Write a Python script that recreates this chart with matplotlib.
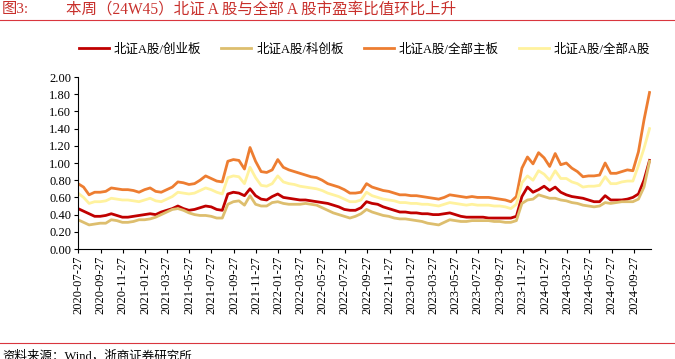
import numpy as np
import pandas as pd
import matplotlib
matplotlib.use("Agg")
import matplotlib.pyplot as plt
from matplotlib.lines import Line2D

plt.rcParams['font.family'] = ['Liberation Serif', 'Noto Sans CJK SC']

# half-monthly readings, 2020-07-27 .. 2024-11-08
cyb = [0.47, 0.44, 0.41, 0.38, 0.38, 0.39, 0.41, 0.39, 0.37, 0.37, 0.38, 0.39,
       0.40, 0.41, 0.40, 0.43, 0.45, 0.47, 0.50, 0.47, 0.45, 0.46, 0.48, 0.50,
       0.49, 0.46, 0.45, 0.64, 0.66, 0.65, 0.62, 0.70, 0.62, 0.58, 0.57, 0.61,
       0.64, 0.60, 0.59, 0.58, 0.57, 0.57, 0.56, 0.55, 0.54, 0.53, 0.51, 0.49,
       0.46, 0.45, 0.45, 0.48, 0.55, 0.53, 0.52, 0.49, 0.47, 0.45, 0.43, 0.43,
       0.42, 0.42, 0.41, 0.41, 0.40, 0.40, 0.41, 0.42, 0.40, 0.38, 0.37, 0.37,
       0.37, 0.37, 0.36, 0.36, 0.36, 0.36, 0.36, 0.38, 0.61, 0.72, 0.66, 0.69,
       0.73, 0.68, 0.72, 0.66, 0.63, 0.61, 0.60, 0.59, 0.57, 0.55, 0.55, 0.62,
       0.57, 0.57, 0.57, 0.58, 0.60, 0.64, 0.80, 1.03]
kcb = [0.34, 0.31, 0.28, 0.29, 0.30, 0.30, 0.34, 0.33, 0.31, 0.31, 0.32, 0.34,
       0.34, 0.35, 0.37, 0.40, 0.43, 0.46, 0.47, 0.45, 0.42, 0.40, 0.39, 0.39,
       0.38, 0.36, 0.36, 0.52, 0.55, 0.56, 0.51, 0.62, 0.52, 0.50, 0.50, 0.54,
       0.55, 0.53, 0.52, 0.52, 0.52, 0.53, 0.52, 0.51, 0.48, 0.45, 0.42, 0.40,
       0.38, 0.36, 0.38, 0.41, 0.46, 0.43, 0.41, 0.39, 0.38, 0.36, 0.35, 0.35,
       0.34, 0.33, 0.32, 0.30, 0.29, 0.28, 0.31, 0.34, 0.33, 0.32, 0.32, 0.33,
       0.33, 0.33, 0.33, 0.32, 0.32, 0.31, 0.31, 0.33, 0.53, 0.57, 0.58, 0.63,
       0.61, 0.59, 0.59, 0.57, 0.56, 0.54, 0.53, 0.51, 0.50, 0.49, 0.50, 0.54,
       0.53, 0.54, 0.55, 0.55, 0.55, 0.58, 0.72, 1.02]
zb = [0.76, 0.72, 0.63, 0.66, 0.66, 0.67, 0.71, 0.70, 0.69, 0.69, 0.68, 0.66,
      0.69, 0.71, 0.67, 0.66, 0.69, 0.72, 0.78, 0.77, 0.75, 0.76, 0.80, 0.85,
      0.82, 0.79, 0.78, 1.02, 1.04, 1.03, 0.93, 1.18, 1.02, 0.90, 0.89, 0.92,
      1.04, 0.95, 0.92, 0.90, 0.88, 0.86, 0.84, 0.83, 0.80, 0.76, 0.74, 0.72,
      0.69, 0.65, 0.65, 0.66, 0.76, 0.72, 0.70, 0.68, 0.67, 0.65, 0.63, 0.63,
      0.62, 0.62, 0.61, 0.60, 0.59, 0.58, 0.60, 0.63, 0.62, 0.61, 0.60, 0.61,
      0.60, 0.60, 0.60, 0.59, 0.58, 0.57, 0.55, 0.61, 0.94, 1.07, 0.99, 1.12,
      1.06, 0.96, 1.11, 0.98, 1.00, 0.94, 0.90, 0.84, 0.85, 0.85, 0.86, 1.00,
      0.88, 0.88, 0.90, 0.92, 0.91, 1.13, 1.50, 1.82]
qa = [0.65, 0.60, 0.53, 0.55, 0.55, 0.56, 0.59, 0.58, 0.57, 0.57, 0.56, 0.55,
      0.57, 0.59, 0.56, 0.55, 0.58, 0.61, 0.66, 0.65, 0.64, 0.65, 0.68, 0.71,
      0.69, 0.66, 0.64, 0.83, 0.85, 0.84, 0.76, 0.95, 0.83, 0.74, 0.73, 0.76,
      0.85, 0.78, 0.76, 0.75, 0.73, 0.72, 0.71, 0.70, 0.68, 0.65, 0.63, 0.61,
      0.58, 0.55, 0.55, 0.57, 0.66, 0.62, 0.60, 0.58, 0.57, 0.56, 0.54, 0.54,
      0.53, 0.53, 0.52, 0.52, 0.51, 0.50, 0.52, 0.54, 0.53, 0.52, 0.51, 0.52,
      0.51, 0.51, 0.51, 0.50, 0.50, 0.49, 0.47, 0.52, 0.77, 0.85, 0.80, 0.91,
      0.87, 0.80, 0.91, 0.82, 0.82, 0.78, 0.76, 0.72, 0.73, 0.73, 0.74, 0.84,
      0.76, 0.76, 0.78, 0.79, 0.79, 0.97, 1.17, 1.40]

names = ['北证A股/创业板', '北证A股/科创板', '北证A股/全部主板', '北证A股/全部A股']
colors = ['#C00000', '#DDBE6E', '#ED7D31', '#FFF29E']

dates = pd.date_range('2020-07-27', '2024-11-08', periods=len(cyb))
tick_dates = [pd.Timestamp('2020-07-27') + pd.DateOffset(months=2 * k) for k in range(26)]

fig = plt.figure(figsize=(6.75, 3.59), dpi=100)
ax = fig.add_axes([78 / 675, 1 - 249 / 359, (651 - 78) / 675, (249 - 77) / 359])

for s, name, c in zip([cyb, kcb, zb, qa], names, colors):
    ax.plot(dates, s, color=c, lw=2, label=name)

ax.set_ylim(0, 2)
ax.set_yticks(np.arange(0, 2.01, 0.2))
ax.set_yticklabels([f'{v:.2f}' for v in np.arange(0, 2.01, 0.2)], fontsize=9)
ax.set_xlim(pd.Timestamp('2020-07-27'), pd.Timestamp('2024-11-12'))
ax.set_xticks(tick_dates)
ax.set_xticklabels([d.strftime('%Y-%m-%d') for d in tick_dates], rotation=90, fontsize=9)
ax.tick_params(direction='out', length=3, width=0.8, pad=2)
for sp in ['top', 'right']:
    ax.spines[sp].set_visible(False)

ax.legend(loc='center', bbox_to_anchor=(0.5, 1.16), ncol=4, frameon=False,
          fontsize=9, handlelength=2.4, columnspacing=1.6, handletextpad=0.4)

fig.text(0.003, 1 - 10 / 359, '图3:', color='#C8302C', fontsize=11, va='center')
fig.text(66 / 675, 1 - 10 / 359, '本周（24W45）北证 A 股与全部 A 股市盈率比值环比上升',
         color='#C8302C', fontsize=11.2, va='center')
fig.add_artist(Line2D([0, 1], [1 - 20 / 359] * 2, transform=fig.transFigure, color='#D9363E', lw=0.8))
fig.add_artist(Line2D([0, 1], [1 - 343 / 359] * 2, transform=fig.transFigure, color='#D9363E', lw=0.8))
fig.text(0.003, 1 - 356 / 359, '资料来源：Wind，浙商证券研究所', fontsize=9, va='center')

fig.savefig('out.png', dpi=100)
